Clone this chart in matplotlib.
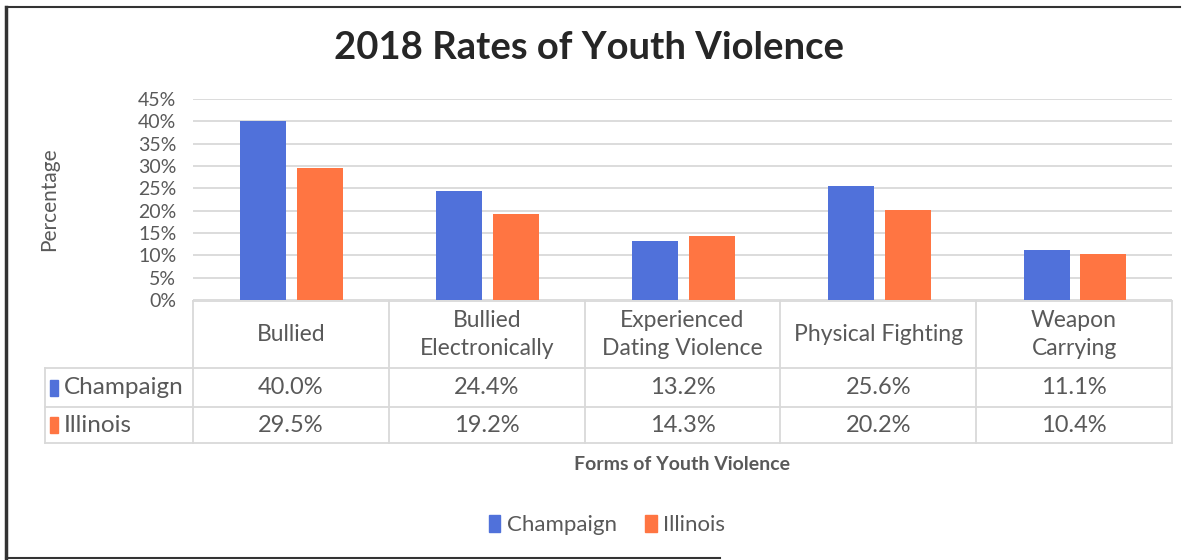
import matplotlib.pyplot as plt
from matplotlib.lines import Line2D
from matplotlib.patches import Patch, Rectangle
import numpy as np

# datos
categories = ['Bullied', 'Bullied\nElectronically', 'Experienced\nDating Violence',
              'Physical Fighting', 'Weapon\nCarrying']
series_names = ['Champaign', 'Illinois']
champaign = [40.0, 24.4, 13.2, 25.6, 11.1]
illinois = [29.5, 19.2, 14.3, 20.2, 10.4]
yticks = [0, 5, 10, 15, 20, 25, 30, 35, 40, 45]

colors = ['#5071DA', '#FF7542']
grid_c = '#D9D9D9'
text_c = '#595959'
plt.rcParams['font.family'] = ['Lato', 'DejaVu Sans']

W, H = 1186, 560
fig = plt.figure(figsize=(W / 100, H / 100), dpi=100)
fig.patch.set_facecolor('white')

# area del grafico (pixeles)
x0, x1 = 193, 1172
y0, y1 = 99, 300
ax = fig.add_axes([x0 / W, 1 - y1 / H, (x1 - x0) / W, (y1 - y0) / H])

x = np.arange(len(categories))
bw = 0.235
ax.bar(x - 0.14, champaign, width=bw, color=colors[0], zorder=3)
ax.bar(x + 0.15, illinois, width=bw, color=colors[1], zorder=3)

ax.set_xlim(-0.5, len(categories) - 0.5)
ax.set_ylim(0, 45)
ax.set_yticks(yticks)
ax.set_yticklabels([f'{v}%' for v in yticks], fontsize=14, color=text_c)
ax.tick_params(axis='y', length=0, pad=12)
ax.set_xticks([])
for s in ax.spines.values():
    s.set_visible(False)
ax.grid(axis='y', color=grid_c, lw=1.3, zorder=0)
ax.set_ylabel('Percentage', fontsize=15, color=text_c)
ax.yaxis.set_label_coords((59 - x0) / (x1 - x0), 0.5)

# tabla de datos
tr = ax.get_xaxis_transform()
px = lambda ypx: (y1 - ypx) / (y1 - y0)
col_w = (x1 - x0) / len(categories)
row_y = [px(301), px(368), px(407), px(443)]
left_x = -0.5 - (x0 - 45) / col_w
line_kw = dict(color=grid_c, lw=1.3, transform=tr, clip_on=False)

ax.add_line(Line2D([-0.5, 4.5], [row_y[0]] * 2, **line_kw))
for yy in row_y[1:]:
    ax.add_line(Line2D([left_x, 4.5], [yy] * 2, **line_kw))
for i in range(len(categories) + 1):
    ax.add_line(Line2D([i - 0.5] * 2, [row_y[0], row_y[3]], **line_kw))
ax.add_line(Line2D([left_x] * 2, [row_y[1], row_y[3]], **line_kw))

for i, cat in enumerate(categories):
    ax.text(i, (row_y[0] + row_y[1]) / 2, cat, transform=tr, ha='center', va='center',
            fontsize=16.5, color=text_c, linespacing=1.4)
    ax.text(i, (row_y[1] + row_y[2]) / 2, f'{champaign[i]:.1f}%', transform=tr,
            ha='center', va='center', fontsize=17, color=text_c)
    ax.text(i, (row_y[2] + row_y[3]) / 2, f'{illinois[i]:.1f}%', transform=tr,
            ha='center', va='center', fontsize=17, color=text_c)

for k, name in enumerate(series_names):
    yc = (row_y[k + 1] + row_y[k + 2]) / 2
    yc_px = y1 - yc * (y1 - y0)
    fig.patches.append(Rectangle((50 / W, 1 - (yc_px + 8) / H), 8 / W, 16 / H,
                                 color=colors[k], transform=fig.transFigure))
    ax.text(left_x + 19 / col_w, yc, name, transform=tr, ha='left', va='center',
            fontsize=17.5, color=text_c)

fig.text((x0 + x1) / 2 / W, 1 - 464 / H, 'Forms of Youth Violence', ha='center',
         va='center', fontsize=14, fontweight='bold', color=text_c)

fig.text(589 / W, 1 - 48 / H, '2018 Rates of Youth Violence', ha='center', va='center',
         fontsize=27.5, fontweight='bold', color='#262626')

handles = [Patch(color=c, label=n) for c, n in zip(colors, series_names)]
fig.legend(handles=handles, loc='center', bbox_to_anchor=(607 / W, 1 - 525 / H), ncol=2,
           frameon=False, fontsize=16, handlelength=0.5, handleheight=0.8,
           handletextpad=0.3, columnspacing=1.3, labelcolor=text_c)

# marco
fig.add_artist(Line2D([6 / W, 6 / W], [1 - 7 / H, 1 - 558 / H], color='#333333', lw=2.5))
fig.add_artist(Line2D([6 / W, 1180 / W], [1 - 7 / H, 1 - 7 / H], color='#333333', lw=1.5))
fig.add_artist(Line2D([6 / W, 720 / W], [1 - 558 / H, 1 - 558 / H], color='#333333', lw=1.5))

fig.savefig('out.png', dpi=100, facecolor='white')
